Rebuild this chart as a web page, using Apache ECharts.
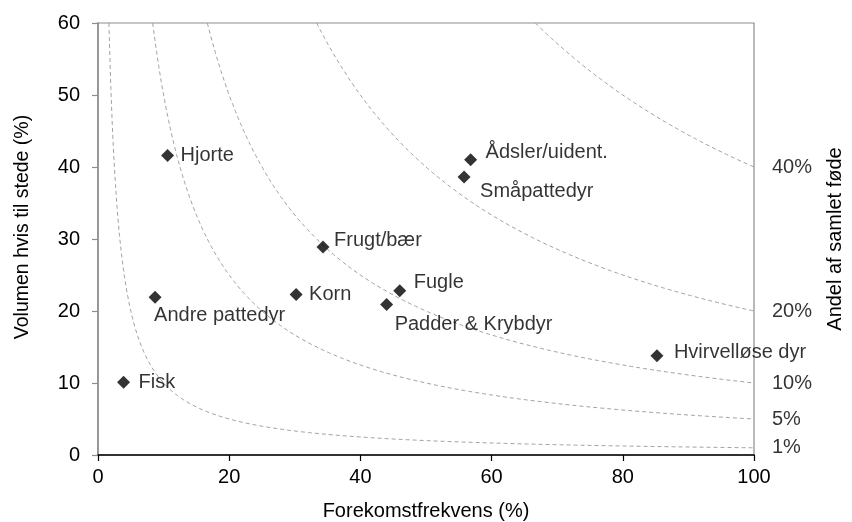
<!DOCTYPE html>
<html>
<head>
<meta charset="utf-8">
<script src="https://cdn.jsdelivr.net/npm/echarts@6/dist/echarts.min.js"></script>
<style>
html,body{margin:0;padding:0;background:#fff;}
#chart{width:852px;height:522px;}
</style>
</head>
<body>
<div id="chart"></div>
<script>
// ---- data ----
const categories = ["Hjorte","Andre pattedyr","Fisk","Korn","Frugt/bær","Fugle","Padder & Krybdyr","Ådsler/uident.","Småpattedyr","Hvirvelløse dyr"];
const frequency  = [10.6, 8.7, 3.9, 30.2, 34.3, 46.0, 44.0, 56.8, 55.8, 85.2];   // Forekomstfrekvens (%)
const volume     = [41.6, 21.9, 10.1, 22.3, 28.9, 22.8, 20.9, 41.0, 38.6, 13.8]; // Volumen hvis til stede (%)
const shareLevels = [1, 5, 10, 20, 40];   // Andel af samlet føde (%) isolines
const xTicks = [0, 20, 40, 60, 80, 100];
const yTicks = [0, 10, 20, 30, 40, 50, 60];

// label placement (style): [dx, dy] from marker centre
const labelLayout = {
  "Hjorte": [13, 0],
  "Andre pattedyr": [-1, 18],
  "Fisk": [15, 0],
  "Korn": [13, 0],
  "Frugt/bær": [11, -6],
  "Fugle": [14, -8],
  "Padder & Krybdyr": [8, 20],
  "Ådsler/uident.": [15, -7],
  "Småpattedyr": [16, 14],
  "Hvirvelløse dyr": [17, -3]
};

const FONT = '"Liberation Sans", Arial, sans-serif';
const TXT = '#000';
const xMax = xTicks[xTicks.length - 1];
const yMax = yTicks[yTicks.length - 1];

// isoline curves: share = freq * vol / 100  ->  vol = share*100/freq
const curveSeries = shareLevels.map(lv => {
  const pts = [];
  const x0 = lv * 100 / yMax;
  const n = 300;
  for (let i = 0; i <= n; i++) {
    const x = x0 + (xMax - x0) * Math.pow(i / n, 1.6);
    pts.push([x, lv * 100 / x]);
  }
  return {
    type: 'line', data: pts, showSymbol: false, symbol: 'none', silent: true,
    lineStyle: { color: '#a0a0a0', width: 1, type: [4, 3] }, z: 1, clip: true
  };
});

const pointData = categories.map((c, i) => ({
  name: c,
  value: [frequency[i], volume[i]],
  label: {
    show: true, position: 'inside', align: 'left', verticalAlign: 'middle',
    offset: labelLayout[c], formatter: c,
    color: TXT, fontFamily: FONT, fontSize: 20
  }
}));

const chart = echarts.init(document.getElementById('chart'), null, { renderer: 'canvas' });
chart.setOption({
  animation: false,
  backgroundColor: '#fff',
  grid: { left: 98, right: 98, top: 23, bottom: 67, outerBoundsMode: 'none', containLabel: false,
          show: true, borderColor: '#8c8c8c', borderWidth: 1.2, backgroundColor: 'transparent' },
  xAxis: {
    type: 'value', min: xTicks[0], max: xMax, interval: 20,
    name: 'Forekomstfrekvens (%)', nameLocation: 'middle', nameGap: 46,
    nameTextStyle: { fontFamily: FONT, fontSize: 20, color: TXT },
    axisLine: { show: true, onZero: false, lineStyle: { color: '#000', width: 1.5 } },
    axisTick: { show: true, length: 6, lineStyle: { color: '#000', width: 1.2 } },
    axisLabel: { fontFamily: FONT, fontSize: 20, color: TXT, margin: 12 },
    splitLine: { show: false }
  },
  yAxis: [{
    type: 'value', min: yTicks[0], max: yMax, interval: 10,
    name: 'Volumen hvis til stede (%)', nameLocation: 'middle', nameGap: 65, nameRotate: 90,
    nameTextStyle: { fontFamily: FONT, fontSize: 19.5, color: TXT, padding: [0, 0, 0, 24] },
    axisLine: { show: true, onZero: false, lineStyle: { color: '#8c8c8c', width: 1.5 } },
    axisTick: { show: true, length: 6, lineStyle: { color: '#8c8c8c', width: 1.2 } },
    axisLabel: { fontFamily: FONT, fontSize: 20, color: TXT, margin: 18 },
    splitLine: { show: false }
  }, {
    type: 'value', min: yTicks[0], max: yMax, position: 'right',
    name: 'Andel af samlet føde', nameLocation: 'middle', nameGap: 71, nameRotate: 90,
    nameTextStyle: { fontFamily: FONT, fontSize: 20, color: TXT },
    axisLine: { show: false }, axisTick: { show: false }, axisLabel: { show: false }, splitLine: { show: false }
  }],
  series: [
    ...curveSeries,
    {
      type: 'scatter', data: shareLevels.map(lv => ({ value: [xMax, lv], label: { formatter: lv + '%' } })),
      symbolSize: 0, silent: true, z: 3,
      label: { show: true, position: 'inside', align: 'left', verticalAlign: 'middle', offset: [18, 0],
               color: TXT, fontFamily: FONT, fontSize: 20 }
    },
    {
      type: 'scatter', data: pointData, symbol: 'diamond', symbolSize: 13,
      itemStyle: { color: '#000' }, z: 5
    }
  ]
});
</script>
</body>
</html>
